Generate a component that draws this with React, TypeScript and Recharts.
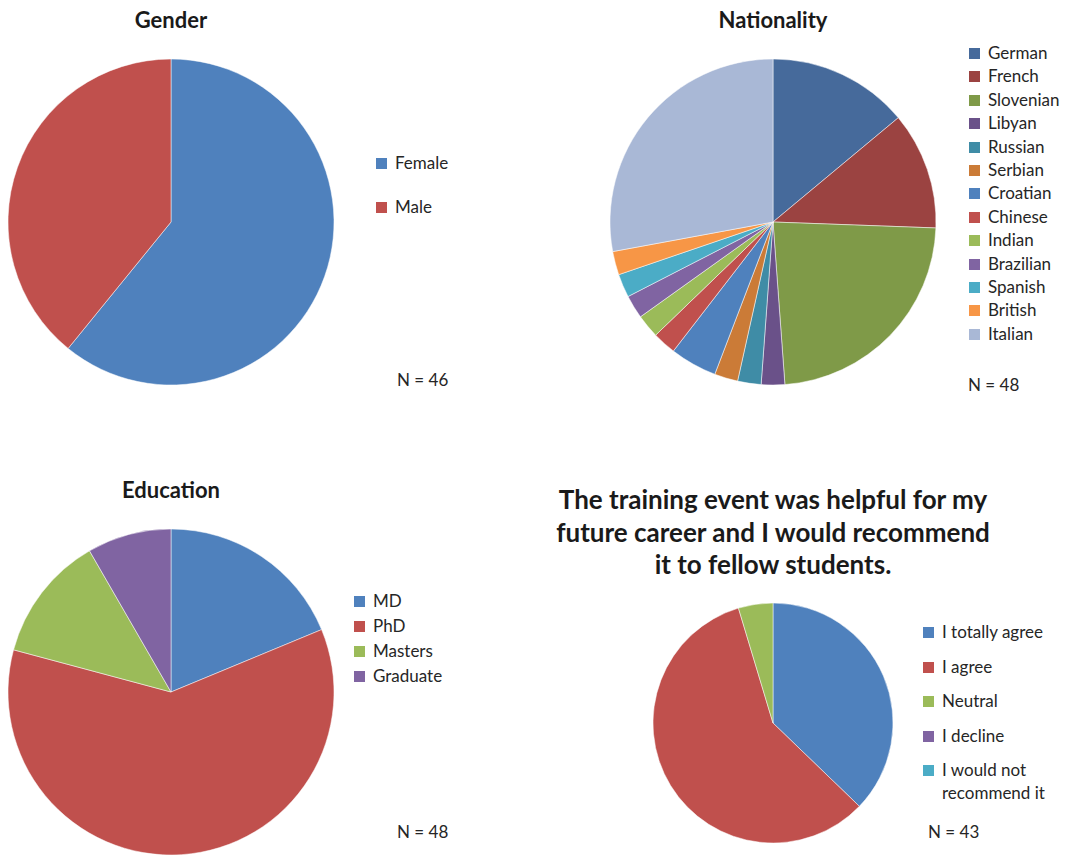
import React from 'react';
import { PieChart, Pie, Cell } from 'recharts';

// values
const genderLabels = ['Female', 'Male'];
const genderValues = [28, 18];
const genderColors = ['#4F81BD', '#C0504D'];

const nationalityLabels = [
  'German', 'French', 'Slovenian', 'Libyan', 'Russian', 'Serbian', 'Croatian',
  'Chinese', 'Indian', 'Brazilian', 'Spanish', 'British', 'Italian',
];
const nationalityValues = [6, 5, 10, 1, 1, 1, 2, 1, 1, 1, 1, 1, 12];
const nationalityColors = [
  '#466A9B', '#9B4341', '#7F9A48', '#6A5189', '#3F8CA6', '#CB7B37', '#4F81BD',
  '#C0504D', '#9BBB59', '#8064A2', '#4BACC6', '#F79646', '#A9B8D6',
];

const educationLabels = ['MD', 'PhD', 'Masters', 'Graduate'];
const educationValues = [9, 29, 6, 4];
const educationColors = ['#4F81BD', '#C0504D', '#9BBB59', '#8064A2'];

const careerLabels = ['I totally agree', 'I agree', 'Neutral', 'I decline', 'I would not recommend it'];
const careerValues = [16, 25, 2, 0, 0];
const careerColors = ['#4F81BD', '#C0504D', '#9BBB59', '#8064A2', '#4BACC6'];

const toRows = (labels: string[], values: number[]) =>
  labels.map((name, i) => ({ name, value: values[i] }));

const FONT = 'Lato, "Noto Sans", sans-serif';
const TEXT = '#262626';

function LegendItem({ x, y, color, label }: { x: number; y: number; color: string; label: React.ReactNode }) {
  return (
    <div style={{ position: 'absolute', left: x, top: y, transform: 'translateY(-11px)', display: 'flex', alignItems: 'flex-start' }}>
      <div style={{ width: 11, height: 11, background: color, marginTop: 6, marginRight: 8, flexShrink: 0 }} />
      <div style={{ fontSize: 17, lineHeight: '22.5px', color: TEXT }}>{label}</div>
    </div>
  );
}

function Label({ x, y, children, size = 17, bold = false, center = false }: any) {
  return (
    <div
      style={{
        position: 'absolute',
        left: x,
        top: y,
        transform: center ? 'translate(-50%, -50%)' : 'translateY(-50%)',
        fontSize: size,
        fontWeight: bold ? 700 : 400,
        color: bold ? '#1a1a1a' : TEXT,
        whiteSpace: 'nowrap',
        textAlign: 'center',
        lineHeight: 1.25,
      }}
    >
      {children}
    </div>
  );
}

export default function App() {
  return (
    <div style={{ position: 'absolute', left: 0, top: 0, width: 1071, height: 855, background: '#fff', fontFamily: FONT }}>
      <PieChart width={1071} height={855} margin={{ top: 0, right: 0, bottom: 0, left: 0 }} style={{ position: 'absolute', left: 0, top: 0 }}>
        <Pie data={toRows(genderLabels, genderValues)} dataKey="value" cx={171} cy={222} outerRadius={163}
          startAngle={90} endAngle={-270} stroke="#ffffff" strokeWidth={0.5} isAnimationActive={false}>
          {genderColors.map((c, i) => <Cell key={i} fill={c} />)}
        </Pie>
        <Pie data={toRows(nationalityLabels, nationalityValues)} dataKey="value" cx={773} cy={222} outerRadius={163}
          startAngle={90} endAngle={-270} stroke="#ffffff" strokeWidth={0.5} isAnimationActive={false}>
          {nationalityColors.map((c, i) => <Cell key={i} fill={c} />)}
        </Pie>
        <Pie data={toRows(educationLabels, educationValues)} dataKey="value" cx={171} cy={692} outerRadius={163}
          startAngle={90} endAngle={-270} stroke="#ffffff" strokeWidth={0.5} isAnimationActive={false}>
          {educationColors.map((c, i) => <Cell key={i} fill={c} />)}
        </Pie>
        <Pie data={toRows(careerLabels, careerValues)} dataKey="value" cx={773} cy={723} outerRadius={120}
          startAngle={90} endAngle={-270} stroke="#ffffff" strokeWidth={0.5} isAnimationActive={false}>
          {careerColors.map((c, i) => <Cell key={i} fill={c} />)}
        </Pie>
      </PieChart>

      <Label x={171} y={20} size={22} bold center>Gender</Label>
      <Label x={773} y={20} size={22} bold center>Nationality</Label>
      <Label x={171} y={490} size={22} bold center>Education</Label>
      <Label x={773} y={532} size={26} bold center>
        The training event was helpful for my<br />future career and I would recommend<br />it to fellow students.
      </Label>

      {genderLabels.map((l, i) => (
        <LegendItem key={l} x={376} y={163 + i * 44} color={genderColors[i]} label={l} />
      ))}
      <Label x={397} y={380}>N = 46</Label>

      {nationalityLabels.map((l, i) => (
        <LegendItem key={l} x={969} y={53 + i * 23.4} color={nationalityColors[i]} label={l} />
      ))}
      <Label x={968} y={385}>N = 48</Label>

      {educationLabels.map((l, i) => (
        <LegendItem key={l} x={354} y={601 + i * 25} color={educationColors[i]} label={l} />
      ))}
      <Label x={397} y={832}>N = 48</Label>

      {careerLabels.map((l, i) => (
        <LegendItem
          key={l}
          x={923}
          y={632 + i * 34.5}
          color={careerColors[i]}
          label={i < 4 ? l : <span>I would not<br />recommend it</span>}
        />
      ))}
      <Label x={928} y={832}>N = 43</Label>
    </div>
  );
}
